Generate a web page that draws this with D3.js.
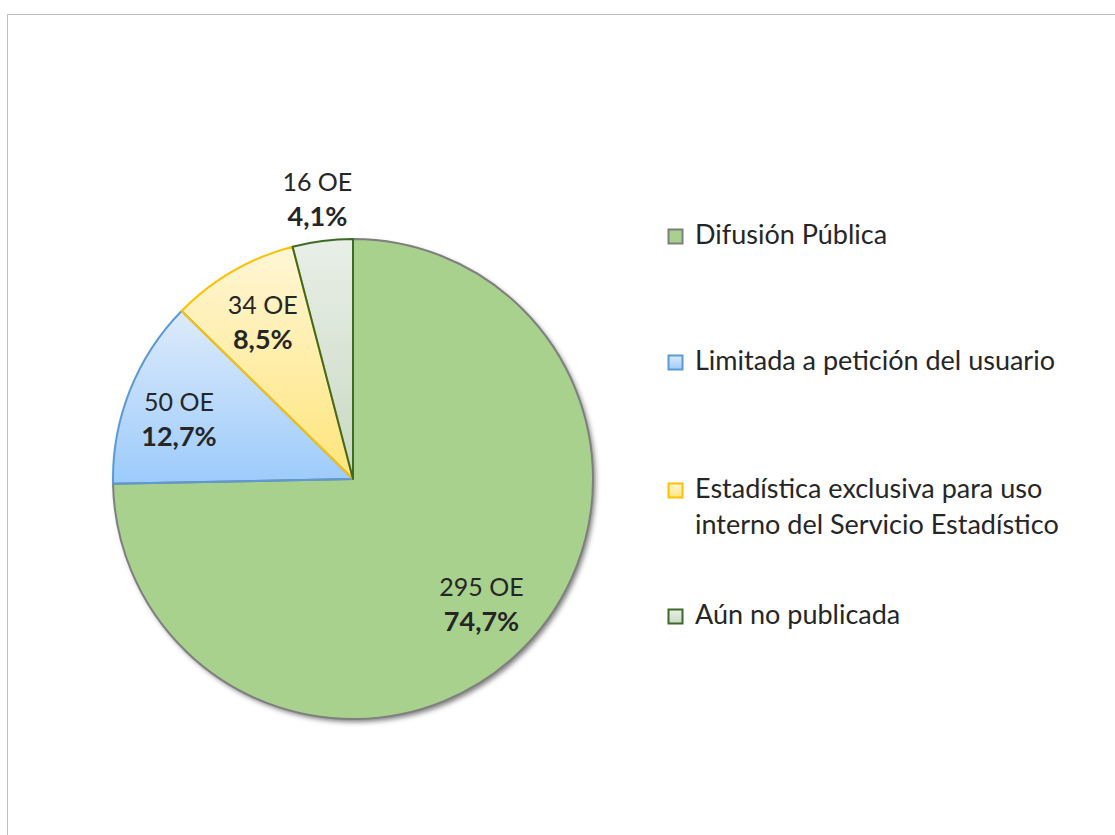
<!DOCTYPE html>
<html>
<head>
<meta charset="utf-8">
<script src="https://cdn.jsdelivr.net/npm/d3@7"></script>
<style>
  body { margin: 0; background: #fff; }
  svg { display: block; }
  text { font-family: Lato, "Noto Sans", sans-serif; fill: #262626; }
</style>
</head>
<body>
<svg id="chart" width="1115" height="835"></svg>
<script>
// data
var categories = ['Difusión Pública', 'Limitada a petición del usuario',
  'Estadística exclusiva para uso interno del Servicio Estadístico', 'Aún no publicada'];
var counts = [295, 50, 34, 16];
var countLabels = ['295 OE', '50 OE', '34 OE', '16 OE'];
var pctLabels = ['74,7%', '12,7%', '8,5%', '4,1%'];
var legendLines = [['Difusión Pública'], ['Limitada a petición del usuario'],
  ['Estadística exclusiva para uso', 'interno del Servicio Estadístico'], ['Aún no publicada']];

// styles
var fillTop = ['#a9d18e', '#ddebfb', '#fff6d6', '#e9efe7'];
var fillBottom = ['#a9d18e', '#9ccbfb', '#ffe57a', '#c8d8c3'];
var strokes = ['#7f7f7f', '#5b9bd5', '#ffc000', '#3d6b27'];
var labelRadius = [0.75, 0.78, 0.75, 1.17];
var labelShiftY = [0, 10, 0, 0]; // excel "best fit" nudges

var svg = d3.select('#chart');
var defs = svg.append('defs');

var shadow = defs.append('filter').attr('id', 'shadow')
  .attr('x', '-10%').attr('y', '-10%').attr('width', '125%').attr('height', '125%');
shadow.append('feDropShadow').attr('dx', 2.5).attr('dy', 3).attr('stdDeviation', 2.5)
  .attr('flood-color', '#000').attr('flood-opacity', 0.5);

// chart area frame
svg.append('rect')
  .attr('x', 7.5).attr('y', 14.5).attr('width', 1200).attr('height', 900)
  .attr('fill', '#fff').attr('stroke', '#bfbfbf').attr('stroke-width', 1);

var cx = 353, cy = 479, R = 240;

var pie = d3.pie().sort(null).value(function(d) { return d; });
var arcs = pie(counts);
var arc = d3.arc().innerRadius(0).outerRadius(R);

// vertical gradients for each slice
arcs.forEach(function(a, i) {
  var g = defs.append('linearGradient').attr('id', 'grad' + i)
    .attr('x1', 0).attr('y1', 0).attr('x2', 0).attr('y2', 1);
  g.append('stop').attr('offset', '0%').attr('stop-color', fillTop[i]);
  g.append('stop').attr('offset', '100%').attr('stop-color', fillBottom[i]);
});

var pieG = svg.append('g').attr('transform', 'translate(' + cx + ',' + cy + ')');

pieG.append('g').attr('filter', 'url(#shadow)')
  .selectAll('path.slice').data(arcs).enter().append('path')
  .attr('class', 'slice')
  .attr('d', arc)
  .attr('fill', function(d, i) { return 'url(#grad' + i + ')'; });

pieG.selectAll('path.edge').data(arcs).enter().append('path')
  .attr('class', 'edge')
  .attr('d', arc)
  .attr('fill', 'none')
  .attr('stroke', function(d, i) { return strokes[i]; })
  .attr('stroke-width', 2)
  .attr('stroke-linejoin', 'round');

// data labels
var labels = pieG.selectAll('g.lbl').data(arcs).enter().append('g')
  .attr('class', 'lbl')
  .attr('transform', function(d, i) {
    var r = R * labelRadius[i];
    var c = d3.arc().innerRadius(r).outerRadius(r).centroid(d);
    return 'translate(' + c[0] + ',' + (c[1] + labelShiftY[i]) + ')';
  });

labels.append('text')
  .attr('text-anchor', 'middle').attr('y', -9)
  .style('font-size', '25px')
  .text(function(d, i) { return countLabels[i]; });

labels.append('text')
  .attr('text-anchor', 'middle').attr('y', 26)
  .style('font-size', '27px').style('font-weight', 'bold')
  .text(function(d, i) { return pctLabels[i]; });

// legend
var legendY = [236, 362, 490, 616];
var legend = svg.selectAll('g.leg').data(categories).enter().append('g')
  .attr('class', 'leg')
  .attr('transform', function(d, i) { return 'translate(668,' + legendY[i] + ')'; });

legend.append('rect')
  .attr('x', 0.5).attr('y', -6.5).attr('width', 14).attr('height', 14)
  .attr('fill', function(d, i) { return 'url(#grad' + i + ')'; })
  .attr('stroke', function(d, i) { return strokes[i]; })
  .attr('stroke-width', 2);

legend.each(function(d, i) {
  var t = d3.select(this).append('text')
    .attr('x', 27).attr('y', 8)
    .style('font-size', '27px');
  legendLines[i].forEach(function(line, j) {
    t.append('tspan').attr('x', 27).attr('dy', j === 0 ? 0 : 36).text(line);
  });
});
</script>
</body>
</html>
